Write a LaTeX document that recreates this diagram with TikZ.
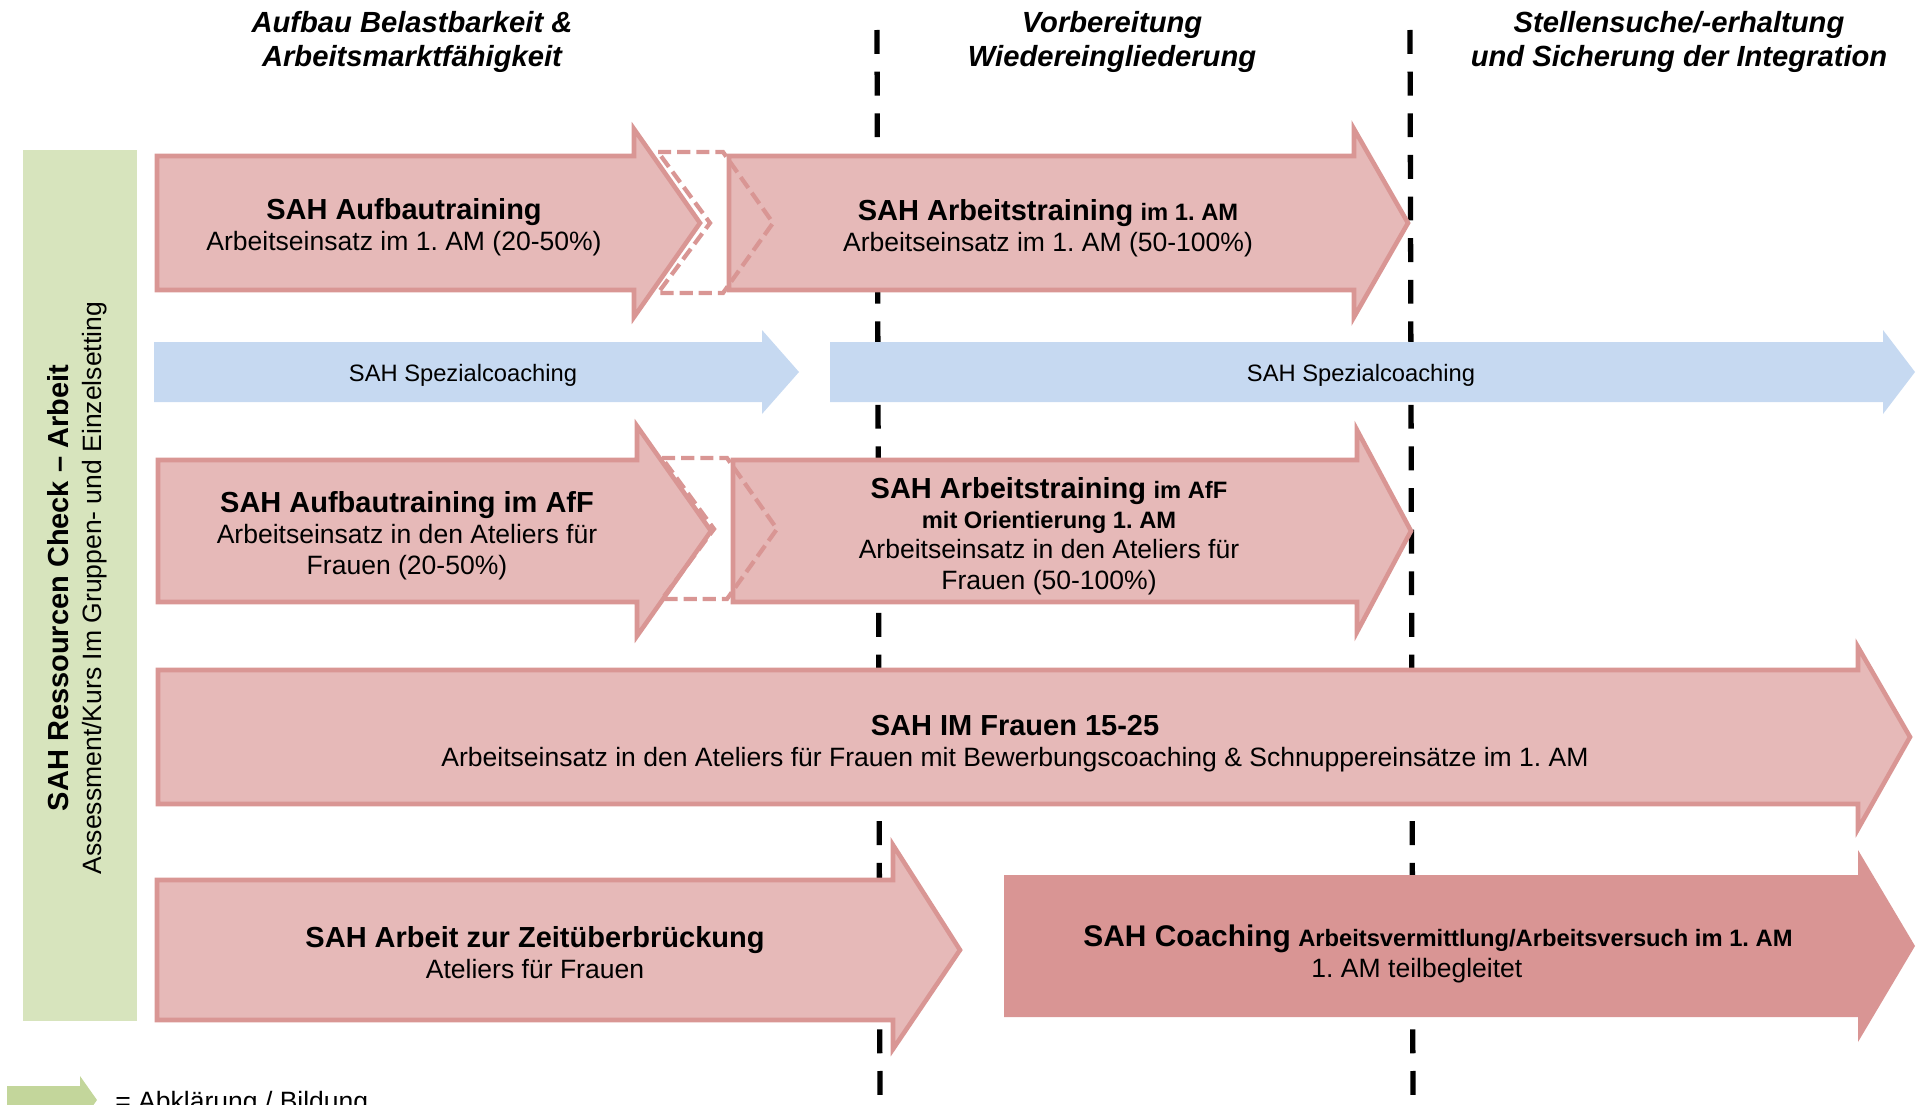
\documentclass[tikz,border=0pt]{standalone}
\usepackage{fontspec}
\setmainfont{Liberation Sans}
\frenchspacing

\definecolor{pinkfill}{HTML}{E6B9B8}
\definecolor{pinkline}{HTML}{D99694}
\definecolor{darkpink}{HTML}{D99594}
\definecolor{bluefill}{HTML}{C6D9F1}
\definecolor{greenfill}{HTML}{D7E4BD}
\definecolor{legendgreen}{HTML}{C3D69B}

\newcommand{\boxtitle}[1]{{\fontsize{16.5}{17.6}\selectfont\bfseries #1}}
\newcommand{\boxsmall}[1]{{\fontsize{13.5}{17.6}\selectfont\bfseries #1}}

\begin{document}
\begin{tikzpicture}[x=0.02cm, y=-0.02cm,
    pinkarrow/.style={fill=pinkfill, draw=pinkline, line width=2.6pt},
    bluearrow/.style={fill=bluefill},
    darkarrow/.style={fill=darkpink},
    chevron/.style={draw=pinkline, line width=2.4pt, dash pattern=on 7.5pt off 3.4pt},
    divider/.style={draw=black, line width=3pt, dash pattern=on 13.6pt off 10.1pt},
    boxtext/.style={align=center, inner sep=0pt, font=\fontsize{15.1}{17.6}\selectfont},
    headtext/.style={align=center, inner sep=0pt, font=\fontsize{16.6}{19.3}\selectfont\bfseries\itshape}]
        \clip (0,0) rectangle (1917,1105);
        % Phase borders
        \draw[divider] (877,30) -- (880,1105);
        \draw[divider] (1410,30) -- (1413,1105);
        % Phase titles
        \node[headtext] (hdrAufbau) at (412,42) {Aufbau Belastbarkeit \&\\Arbeitsmarktfähigkeit};
        \node[headtext] (hdrVorb) at (1112,42) {Vorbereitung\\Wiedereingliederung};
        \node[headtext] (hdrStelle) at (1679,42) {Stellensuche/-erhaltung\\und Sicherung der Integration};
        % Ressourcen Check bar
        \fill[greenfill] (23,150) rectangle (137,1021);
        \node[boxtext, rotate=90, font=\fontsize{15.1}{18.7}\selectfont] (txtCheck) at (77,588)
            {\boxtitle{SAH Ressourcen Check – Arbeit}\\Assessment/Kurs Im Gruppen- und Einzelsetting};
        % Arrows
        \foreach \xl/\xb/\xt/\yt/\yb/\ht/\hb in {157/634/700/156/290/129/317, 729/1354/1408/156/290/129/317,
                158/637/711/460/602/426/636, 733/1357/1411/460/602/430/632,
                158/1858/1910/670/804/647/829, 157/893/960/880/1020/845/1049}
            \draw[pinkarrow] (\xl,\yt) -- (\xb,\yt) -- (\xb,\ht) -- (\xt,{(\yt+\yb)/2})
                -- (\xb,\hb) -- (\xb,\yb) -- (\xl,\yb) -- cycle;
        \foreach \xl/\xb/\xt in {154/762/799, 830/1883/1915}
            \fill[bluearrow] (\xl,342) -- (\xb,342) -- (\xb,330) -- (\xt,372)
                -- (\xb,414) -- (\xb,402) -- (\xl,402) -- cycle;
        \fill[darkarrow] (1004,875) -- (1858,875) -- (1858,850) -- (1915,946)
            -- (1858,1042) -- (1858,1017) -- (1004,1017) -- cycle;
        % Transitions
        \foreach \x/\y in {658/152, 662/458}
            \draw[chevron] (\x,\y) -- ++(65,0) -- ++(50,71) -- ++(-50,70) -- ++(-65,0)
                -- ++(52,-70) -- cycle;
        % Labels
        \node[boxtext] (txtAufbau) at (404,227)
            {\boxtitle{SAH Aufbautraining}\\Arbeitseinsatz im 1. AM (20-50\%)};
        \node[boxtext] (txtArbeit) at (1048,228)
            {\boxtitle{SAH Arbeitstraining} \boxsmall{im 1. AM}\\Arbeitseinsatz im 1. AM (50-100\%)};
        \node[boxtext] (txtCoachA) at (463,375) {\fontsize{13.5}{16}\selectfont SAH Spezialcoaching};
        \node[boxtext] (txtCoachB) at (1361,375) {\fontsize{13.5}{16}\selectfont SAH Spezialcoaching};
        \node[boxtext] (txtAufbauAfF) at (407,536)
            {\boxtitle{SAH Aufbautraining im AfF}\\Arbeitseinsatz in den Ateliers für\\Frauen (20-50\%)};
        \node[boxtext, font=\fontsize{15.1}{17.3}\selectfont] (txtArbeitAfF) at (1049,536)
            {\boxtitle{SAH Arbeitstraining} \boxsmall{im AfF}\\\boxsmall{mit Orientierung 1. AM}\\Arbeitseinsatz in den Ateliers für\\Frauen (50-100\%)};
        \node[boxtext] (txtIM) at (1015,744)
            {\boxtitle{SAH IM Frauen 15-25}\\Arbeitseinsatz in den Ateliers für Frauen mit Bewerbungscoaching \& Schnuppereinsätze im 1. AM};
        \node[boxtext] (txtZeit) at (535,953)
            {\boxtitle{SAH Arbeit zur Zeitüberbrückung}\\Ateliers für Frauen};
        \node[boxtext] (txtCoaching) at (1438,954)
            {\boxtitle{\fontsize{17}{17.6}\selectfont SAH Coaching} \boxsmall{Arbeitsvermittlung/Arbeitsversuch im 1. AM}\\1. AM teilbegleitet\hspace*{24pt}};
        % Legend
        \fill[legendgreen] (7,1086) -- (80,1086) -- (80,1076) -- (97,1100) -- (80,1124) -- (80,1114) -- (7,1114) -- cycle;
        \node[boxtext, anchor=west] (txtLegend) at (115,1104) {= Abklärung / Bildung};
    \end{tikzpicture}
\end{document}
